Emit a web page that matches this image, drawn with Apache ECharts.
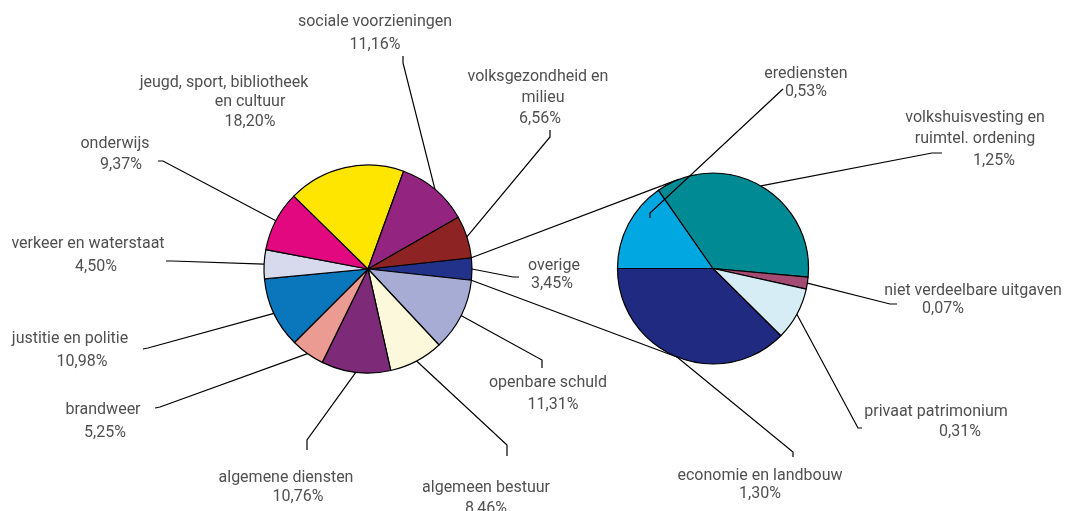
<!DOCTYPE html>
<html><head><meta charset="utf-8">
<script src="https://cdn.jsdelivr.net/npm/echarts@6/dist/echarts.min.js"></script>
<style>html,body{margin:0;padding:0;background:#fff}#c{width:1071px;height:511px}</style>
</head><body><div id="c"></div>
<script>
// ---------- data ----------
const mainNames = ['overige', 'openbare schuld', 'algemeen bestuur', 'algemene diensten', 'brandweer',
  'justitie en politie', 'verkeer en waterstaat', 'onderwijs', 'jeugd, sport, bibliotheek\nen cultuur',
  'sociale voorzieningen', 'volksgezondheid en\nmilieu'];
const mainValues = [3.45, 11.31, 8.46, 10.76, 5.25, 10.98, 4.50, 9.37, 18.20, 11.16, 6.56];
const otherNames = ['erediensten', 'volkshuisvesting en\nruimtel. ordening', 'niet verdeelbare uitgaven',
  'privaat patrimonium', 'economie en landbouw'];
const otherValues = [0.53, 1.25, 0.07, 0.31, 1.30];

// ---------- styles / layout ----------
const mainColors = ['#223189', '#a7acd5', '#fbf8dc', '#7d2b78', '#ec9b93', '#0a76bc', '#d7d9ec', '#e2087f', '#ffe600', '#93247f', '#8d2423'];
const otherColors = ['#00a7e1', '#008a93', '#a34b72', '#d7edf6', '#1f2a80'];
const geo = { main: { cx: 368, cy: 269, r: 104 }, other: { cx: 713, cy: 268.5, r: 95.5 } };
const FONT = 'Roboto', FS = 16, TXT = '#505050';

// label block: x = centre, top, lh = line height, offs = per-line x offset, mid/end = leader bend & tick end
const mainLabelLayout = [
  { x: 554, top: 257, lh: 18, offs: [0, -2], mid: [513, 277], end: [519, 277] },
  { x: 548, top: 372, lh: 22, offs: [0, 5], mid: [542, 360], end: [542, 368] },
  { x: 486, top: 477.5, lh: 21, offs: [0, 0], mid: [507, 445], end: [507, 456] },
  { x: 286, top: 468.5, lh: 19, offs: [0, 12], mid: [307, 440], end: [307, 450] },
  { x: 103, top: 398.5, lh: 23, offs: [0, 2], mid: [160, 407], end: [155, 408] },
  { x: 70, top: 327.5, lh: 23, offs: [0, 12], mid: [148, 348], end: [143, 349] },
  { x: 88, top: 232.5, lh: 23, offs: [0, 8], mid: [172, 261], end: [166, 261] },
  { x: 115, top: 133.5, lh: 21, offs: [0, 6], mid: [163, 161], end: [158, 161] },
  { x: 224, top: 73, lh: 19.5, offs: [0, 26, 26], line: false },
  { x: 375, top: 10, lh: 23, offs: [0, 0], mid: [403, 63], end: [403, 56] },
  { x: 538, top: 66.5, lh: 21, offs: [0, 5, 2], mid: [550, 137], end: [550, 130] }
];
const otherLabelLayout = [
  { x: 806, top: 65, lh: 18, offs: [0, 0], line: false, overlay: [[650, 218], [650, 213], [783, 89]] },
  { x: 975, top: 107, lh: 21.5, offs: [0, 0, 19], mid: [932, 153], end: [942, 153] },
  { x: 973, top: 282, lh: 18, offs: [0, -30], mid: [890, 304], end: [897, 304] },
  { x: 936, top: 402, lh: 20, offs: [0, 24], mid: [858, 428], end: [862, 428] },
  { x: 760, top: 467, lh: 18, offs: [0, 0], mid: [793, 452], end: [793, 457] }
];

const sum = a => a.reduce((s, v) => s + v, 0);
const mainStart = mainValues[0] / sum(mainValues) * 360 / 2; // centre 'overige' on 3 o'clock
const otherStart = 180;

function sliceEdge(values, start, g, i, k) {
  const tot = sum(values);
  let cum = 0;
  for (let j = 0; j < i; j++) cum += values[j];
  const a0 = start - cum / tot * 360;
  const a1 = a0 - values[i] / tot * 360;
  const m = (a0 + a1) / 2 * Math.PI / 180;
  return [g.cx + k * g.r * Math.cos(m), g.cy - k * g.r * Math.sin(m)];
}
function fmt(v) { return v.toFixed(2).replace('.', ',') + '%'; }
function richFor(L) {
  const rich = {};
  L.offs.forEach((dx, j) => {
    rich['l' + j] = {
      fontFamily: FONT, fontSize: FS, color: TXT, lineHeight: L.lh, align: 'center',
      padding: dx >= 0 ? [0, 0, 0, 2 * dx] : [0, -2 * dx, 0, 0]
    };
  });
  return rich;
}
function buildData(names, values, colors, layout) {
  return names.map((n, i) => ({
    name: n, value: values[i],
    itemStyle: { color: colors[i] },
    label: { rich: richFor(layout[i]) },
    labelLine: { show: layout[i].line !== false }
  }));
}
function formatter(p) {
  return (p.name + '\n' + fmt(p.value)).split('\n').map((t, j) => '{l' + j + '|' + t + '}').join('\n');
}
function makeLayout(values, start, g, layout) {
  return function (p) {
    const L = layout[p.dataIndex];
    const res = { x: L.x, y: L.top, align: 'center', verticalAlign: 'top' };
    if (L.mid) res.labelLinePoints = [sliceEdge(values, start, g, p.dataIndex, 1), L.mid, L.end];
    return res;
  };
}

// connector lines between the pies
function tangent(P, g, side) {
  const dx = P[0] - g.cx, dy = P[1] - g.cy;
  const d = Math.hypot(dx, dy);
  const ang = Math.atan2(dy, dx) + side * Math.acos(g.r / d);
  return [g.cx + g.r * Math.cos(ang), g.cy + g.r * Math.sin(ang)];
}
const mg = geo.main;
const topA = mainStart * Math.PI / 180, botA = -mainStart * Math.PI / 180;
const pTop = [mg.cx + mg.r * Math.cos(topA), mg.cy - mg.r * Math.sin(topA)];
const pBot = [mg.cx + mg.r * Math.cos(botA), mg.cy - mg.r * Math.sin(botA)];
const tTop = tangent(pTop, geo.other, 1);
const tBot = tangent(pBot, geo.other, -1);

const graphics = [
  { type: 'line', z: 0, shape: { x1: pTop[0], y1: pTop[1], x2: tTop[0], y2: tTop[1] }, style: { stroke: '#000', lineWidth: 1.2 } },
  { type: 'line', z: 0, shape: { x1: pBot[0], y1: pBot[1], x2: tBot[0], y2: tBot[1] }, style: { stroke: '#000', lineWidth: 1.2 } }
];
// leader lines that must be drawn over the slices
otherLabelLayout.concat(mainLabelLayout).forEach(L => {
  if (L.overlay) graphics.push({ type: 'polyline', z: 100, shape: { points: L.overlay }, style: { stroke: '#000', lineWidth: 1.2, fill: null } });
});

const baseSeries = {
  type: 'pie', clockwise: true, avoidLabelOverlap: false, animation: false,
  emphasis: { disabled: true }, silent: true,
  itemStyle: { borderColor: '#000', borderWidth: 1.2 },
  label: { show: true, position: 'outside', formatter: formatter, fontFamily: FONT, fontSize: FS, color: TXT },
  labelLine: { show: true, lineStyle: { color: '#000', width: 1.2 } }
};

const chart = echarts.init(document.getElementById('c'), null, { renderer: 'canvas' });
chart.setOption({
  backgroundColor: '#fff',
  animation: false,
  graphic: graphics,
  series: [
    Object.assign({}, baseSeries, {
      name: 'main', center: [mg.cx, mg.cy], radius: mg.r, startAngle: mainStart,
      data: buildData(mainNames, mainValues, mainColors, mainLabelLayout),
      labelLayout: makeLayout(mainValues, mainStart, mg, mainLabelLayout)
    }),
    Object.assign({}, baseSeries, {
      name: 'other', center: [geo.other.cx, geo.other.cy], radius: geo.other.r, startAngle: otherStart,
      data: buildData(otherNames, otherValues, otherColors, otherLabelLayout),
      labelLayout: makeLayout(otherValues, otherStart, geo.other, otherLabelLayout)
    })
  ]
});
</script></body></html>
